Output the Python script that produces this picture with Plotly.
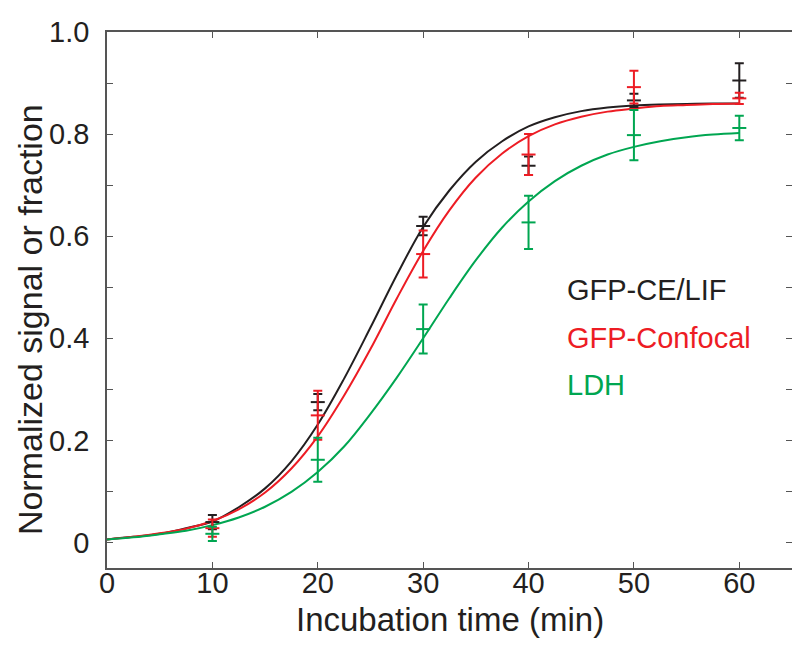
import plotly.graph_objects as go

# Measured points
t_points = [10, 20, 30, 40, 50, 60]
cel_mean = [0.040, 0.275, 0.620, 0.738, 0.866, 0.905]
cel_err = [0.014, 0.016, 0.018, 0.018, 0.013, 0.034]
conf_mean = [0.028, 0.249, 0.565, 0.760, 0.892, 0.870]
conf_err = [0.017, 0.048, 0.046, 0.040, 0.032, 0.011]
ldh_mean = [0.017, 0.162, 0.418, 0.627, 0.798, 0.812]
ldh_err = [0.014, 0.043, 0.048, 0.052, 0.049, 0.024]

# Fitted curves, every 2.5 min
t_curve = [0, 2.5, 5, 7.5, 10, 12.5, 15, 17.5, 20, 22.5, 25, 27.5, 30, 32.5, 35,
           37.5, 40, 42.5, 45, 47.5, 50, 52.5, 55, 57.5, 60]
cel_curve = [0.006, 0.011, 0.017, 0.028, 0.041, 0.069, 0.106, 0.159, 0.231, 0.321, 0.421,
             0.524, 0.618, 0.690, 0.746, 0.786, 0.815, 0.833, 0.845, 0.852, 0.856, 0.858,
             0.859, 0.860, 0.860]
conf_curve = [0.006, 0.011, 0.018, 0.027, 0.042, 0.065, 0.098, 0.145, 0.208, 0.288, 0.379,
              0.478, 0.571, 0.651, 0.715, 0.762, 0.796, 0.819, 0.834, 0.844, 0.850, 0.855,
              0.857, 0.859, 0.860]
ldh_curve = [0.006, 0.010, 0.016, 0.023, 0.034, 0.049, 0.070, 0.099, 0.138, 0.188, 0.252,
             0.323, 0.400, 0.479, 0.553, 0.617, 0.668, 0.708, 0.738, 0.760, 0.775, 0.786,
             0.794, 0.799, 0.802]

series_names = ["GFP-CE/LIF", "GFP-Confocal", "LDH"]
colors = ["#231f20", "#ed1c24", "#00a651"]

x_ticks = [0, 10, 20, 30, 40, 50, 60]
y_tickvals = [0, 0.1, 0.2, 0.3, 0.4, 0.5, 0.6, 0.7, 0.8, 0.9, 1.0]
y_ticktext = ["0", "", "0.2", "", "0.4", "", "0.6", "", "0.8", "", "1.0"]

fig = go.Figure()

curves = [cel_curve, conf_curve, ldh_curve]
means = [cel_mean, conf_mean, ldh_mean]
errs = [cel_err, conf_err, ldh_err]

for name, col, cur in zip(series_names, colors, curves):
    fig.add_trace(go.Scatter(x=t_curve, y=cur, mode="lines", name=name,
                             line=dict(color=col, width=2, shape="spline", smoothing=1.0),
                             showlegend=False, hoverinfo="skip"))

for name, col, m, e in zip(series_names, colors, means, errs):
    fig.add_trace(go.Scatter(x=t_points, y=m, mode="markers", name=name,
                             marker=dict(symbol="line-ew", size=10, color=col,
                                         line=dict(color=col, width=2)),
                             error_y=dict(type="data", array=e, visible=True,
                                          color=col, thickness=2, width=4.5),
                             showlegend=False))

regular = "Liberation Sans, Arial, Helvetica, sans-serif"
label_y = [0.495, 0.401, 0.309]
for name, col, yy in zip(series_names, colors, label_y):
    fig.add_annotation(x=43.5, y=yy, xref="x", yref="y", text=name, showarrow=False,
                       xanchor="left", yanchor="middle",
                       font=dict(family=regular, size=29, color=col))

# axis titles
fig.add_annotation(x=0.5, y=-0.096, xref="paper", yref="paper",
                   text="Incubation time (min)", showarrow=False,
                   xanchor="center", yanchor="middle",
                   font=dict(family=regular, size=33, color="#231f20"))
fig.add_annotation(x=-0.112, y=0.463, xref="paper", yref="paper",
                   text="Normalized signal or fraction", showarrow=False, textangle=-90,
                   xanchor="center", yanchor="middle",
                   font=dict(family=regular, size=34, color="#231f20"))

axis_common = dict(showline=True, linecolor="#555555", linewidth=1.5, mirror="ticks",
                   ticks="inside", ticklen=6, tickwidth=1, tickcolor="#555555",
                   showgrid=False, zeroline=False, automargin=False,
                   tickfont=dict(family=regular, size=29, color="#231f20"))

fig.update_xaxes(range=[0, 65], tickvals=x_ticks, ticklabelstandoff=-12, **axis_common)
fig.update_yaxes(range=[-0.05, 1.0], tickvals=y_tickvals, ticktext=y_ticktext,
                 ticklabelstandoff=10, **axis_common)

fig.update_layout(width=792, height=646, plot_bgcolor="white", paper_bgcolor="white",
                  margin=dict(l=99, r=8, t=24, b=86), showlegend=False)

fig.write_html("out.html")
